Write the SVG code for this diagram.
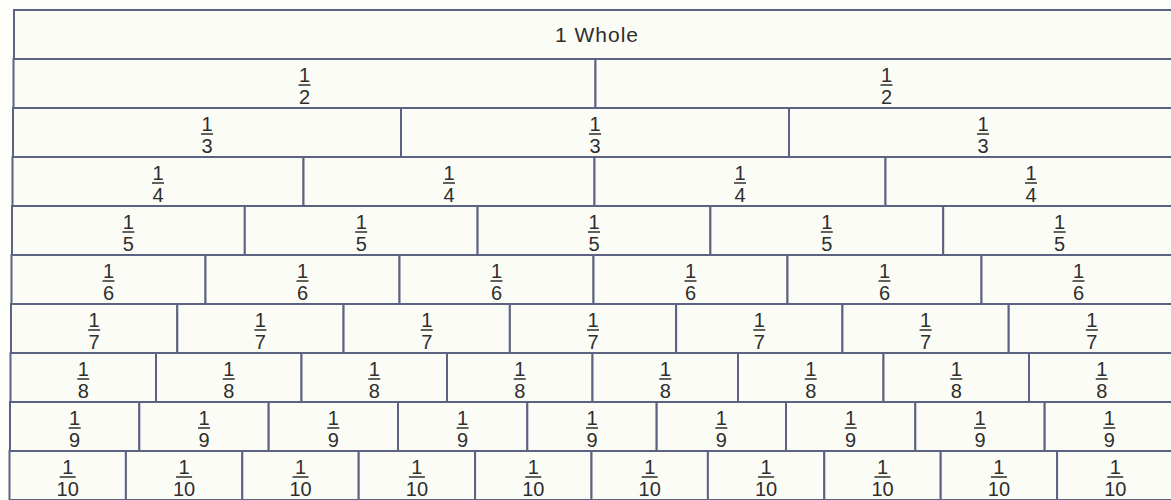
<svg xmlns="http://www.w3.org/2000/svg" width="1171" height="500" viewBox="0 0 1171 500">
<style>
.c{fill:#fcfcf6;stroke:#5c6282;stroke-width:2}
.n{font-family:"Liberation Sans",Arial,sans-serif;font-size:20px;fill:#2e2e2e;text-anchor:middle}
.t{font-family:"Liberation Sans",Arial,sans-serif;font-size:21px;letter-spacing:1px;fill:#2e2e2e;text-anchor:middle}
.b{stroke:#2e2e2e;stroke-width:1.5}
</style>
<rect width="1171" height="500" fill="#fdfdf9"/>
<g id="whole"><rect class="c" x="14" y="10" width="1164" height="49"/><text class="t" x="597" y="42">1 Whole</text></g>
<g id="half-1"><rect class="c" x="13.5" y="59" width="582" height="49"/><text class="n" x="304.5" y="82">1</text><line class="b" x1="298.5" y1="85" x2="310.5" y2="85"/><text class="n" x="304.5" y="104">2</text></g>
<g id="half-2"><rect class="c" x="595.5" y="59" width="582" height="49"/><text class="n" x="886.5" y="82">1</text><line class="b" x1="880.5" y1="85" x2="892.5" y2="85"/><text class="n" x="886.5" y="104">2</text></g>
<g id="third-1"><rect class="c" x="13" y="108" width="388" height="49"/><text class="n" x="207" y="131">1</text><line class="b" x1="201" y1="134" x2="213" y2="134"/><text class="n" x="207" y="153">3</text></g>
<g id="third-2"><rect class="c" x="401" y="108" width="388" height="49"/><text class="n" x="595" y="131">1</text><line class="b" x1="589" y1="134" x2="601" y2="134"/><text class="n" x="595" y="153">3</text></g>
<g id="third-3"><rect class="c" x="789" y="108" width="388" height="49"/><text class="n" x="983" y="131">1</text><line class="b" x1="977" y1="134" x2="989" y2="134"/><text class="n" x="983" y="153">3</text></g>
<g id="quarter-1"><rect class="c" x="12.5" y="157" width="291" height="49"/><text class="n" x="158" y="180">1</text><line class="b" x1="152" y1="183" x2="164" y2="183"/><text class="n" x="158" y="202">4</text></g>
<g id="quarter-2"><rect class="c" x="303.5" y="157" width="291" height="49"/><text class="n" x="449" y="180">1</text><line class="b" x1="443" y1="183" x2="455" y2="183"/><text class="n" x="449" y="202">4</text></g>
<g id="quarter-3"><rect class="c" x="594.5" y="157" width="291" height="49"/><text class="n" x="740" y="180">1</text><line class="b" x1="734" y1="183" x2="746" y2="183"/><text class="n" x="740" y="202">4</text></g>
<g id="quarter-4"><rect class="c" x="885.5" y="157" width="291" height="49"/><text class="n" x="1031" y="180">1</text><line class="b" x1="1025" y1="183" x2="1037" y2="183"/><text class="n" x="1031" y="202">4</text></g>
<g id="fifth-1"><rect class="c" x="12" y="206" width="232.8" height="49"/><text class="n" x="128.4" y="229">1</text><line class="b" x1="122.4" y1="232" x2="134.4" y2="232"/><text class="n" x="128.4" y="251">5</text></g>
<g id="fifth-2"><rect class="c" x="244.8" y="206" width="232.8" height="49"/><text class="n" x="361.2" y="229">1</text><line class="b" x1="355.2" y1="232" x2="367.2" y2="232"/><text class="n" x="361.2" y="251">5</text></g>
<g id="fifth-3"><rect class="c" x="477.6" y="206" width="232.8" height="49"/><text class="n" x="594" y="229">1</text><line class="b" x1="588" y1="232" x2="600" y2="232"/><text class="n" x="594" y="251">5</text></g>
<g id="fifth-4"><rect class="c" x="710.4" y="206" width="232.8" height="49"/><text class="n" x="826.8" y="229">1</text><line class="b" x1="820.8" y1="232" x2="832.8" y2="232"/><text class="n" x="826.8" y="251">5</text></g>
<g id="fifth-5"><rect class="c" x="943.2" y="206" width="232.8" height="49"/><text class="n" x="1059.6" y="229">1</text><line class="b" x1="1053.6" y1="232" x2="1065.6" y2="232"/><text class="n" x="1059.6" y="251">5</text></g>
<g id="sixth-1"><rect class="c" x="11.5" y="255" width="194" height="49"/><text class="n" x="108.5" y="278">1</text><line class="b" x1="102.5" y1="281" x2="114.5" y2="281"/><text class="n" x="108.5" y="300">6</text></g>
<g id="sixth-2"><rect class="c" x="205.5" y="255" width="194" height="49"/><text class="n" x="302.5" y="278">1</text><line class="b" x1="296.5" y1="281" x2="308.5" y2="281"/><text class="n" x="302.5" y="300">6</text></g>
<g id="sixth-3"><rect class="c" x="399.5" y="255" width="194" height="49"/><text class="n" x="496.5" y="278">1</text><line class="b" x1="490.5" y1="281" x2="502.5" y2="281"/><text class="n" x="496.5" y="300">6</text></g>
<g id="sixth-4"><rect class="c" x="593.5" y="255" width="194" height="49"/><text class="n" x="690.5" y="278">1</text><line class="b" x1="684.5" y1="281" x2="696.5" y2="281"/><text class="n" x="690.5" y="300">6</text></g>
<g id="sixth-5"><rect class="c" x="787.5" y="255" width="194" height="49"/><text class="n" x="884.5" y="278">1</text><line class="b" x1="878.5" y1="281" x2="890.5" y2="281"/><text class="n" x="884.5" y="300">6</text></g>
<g id="sixth-6"><rect class="c" x="981.5" y="255" width="194" height="49"/><text class="n" x="1078.5" y="278">1</text><line class="b" x1="1072.5" y1="281" x2="1084.5" y2="281"/><text class="n" x="1078.5" y="300">6</text></g>
<g id="seventh-1"><rect class="c" x="11" y="304" width="166.29" height="49"/><text class="n" x="94.14" y="327">1</text><line class="b" x1="88.14" y1="330" x2="100.14" y2="330"/><text class="n" x="94.14" y="349">7</text></g>
<g id="seventh-2"><rect class="c" x="177.29" y="304" width="166.29" height="49"/><text class="n" x="260.43" y="327">1</text><line class="b" x1="254.43" y1="330" x2="266.43" y2="330"/><text class="n" x="260.43" y="349">7</text></g>
<g id="seventh-3"><rect class="c" x="343.57" y="304" width="166.29" height="49"/><text class="n" x="426.71" y="327">1</text><line class="b" x1="420.71" y1="330" x2="432.71" y2="330"/><text class="n" x="426.71" y="349">7</text></g>
<g id="seventh-4"><rect class="c" x="509.86" y="304" width="166.29" height="49"/><text class="n" x="593" y="327">1</text><line class="b" x1="587" y1="330" x2="599" y2="330"/><text class="n" x="593" y="349">7</text></g>
<g id="seventh-5"><rect class="c" x="676.14" y="304" width="166.29" height="49"/><text class="n" x="759.29" y="327">1</text><line class="b" x1="753.29" y1="330" x2="765.29" y2="330"/><text class="n" x="759.29" y="349">7</text></g>
<g id="seventh-6"><rect class="c" x="842.43" y="304" width="166.29" height="49"/><text class="n" x="925.57" y="327">1</text><line class="b" x1="919.57" y1="330" x2="931.57" y2="330"/><text class="n" x="925.57" y="349">7</text></g>
<g id="seventh-7"><rect class="c" x="1008.71" y="304" width="166.29" height="49"/><text class="n" x="1091.86" y="327">1</text><line class="b" x1="1085.86" y1="330" x2="1097.86" y2="330"/><text class="n" x="1091.86" y="349">7</text></g>
<g id="eighth-1"><rect class="c" x="10.5" y="353" width="145.5" height="49"/><text class="n" x="83.25" y="376">1</text><line class="b" x1="77.25" y1="379" x2="89.25" y2="379"/><text class="n" x="83.25" y="398">8</text></g>
<g id="eighth-2"><rect class="c" x="156" y="353" width="145.5" height="49"/><text class="n" x="228.75" y="376">1</text><line class="b" x1="222.75" y1="379" x2="234.75" y2="379"/><text class="n" x="228.75" y="398">8</text></g>
<g id="eighth-3"><rect class="c" x="301.5" y="353" width="145.5" height="49"/><text class="n" x="374.25" y="376">1</text><line class="b" x1="368.25" y1="379" x2="380.25" y2="379"/><text class="n" x="374.25" y="398">8</text></g>
<g id="eighth-4"><rect class="c" x="447" y="353" width="145.5" height="49"/><text class="n" x="519.75" y="376">1</text><line class="b" x1="513.75" y1="379" x2="525.75" y2="379"/><text class="n" x="519.75" y="398">8</text></g>
<g id="eighth-5"><rect class="c" x="592.5" y="353" width="145.5" height="49"/><text class="n" x="665.25" y="376">1</text><line class="b" x1="659.25" y1="379" x2="671.25" y2="379"/><text class="n" x="665.25" y="398">8</text></g>
<g id="eighth-6"><rect class="c" x="738" y="353" width="145.5" height="49"/><text class="n" x="810.75" y="376">1</text><line class="b" x1="804.75" y1="379" x2="816.75" y2="379"/><text class="n" x="810.75" y="398">8</text></g>
<g id="eighth-7"><rect class="c" x="883.5" y="353" width="145.5" height="49"/><text class="n" x="956.25" y="376">1</text><line class="b" x1="950.25" y1="379" x2="962.25" y2="379"/><text class="n" x="956.25" y="398">8</text></g>
<g id="eighth-8"><rect class="c" x="1029" y="353" width="145.5" height="49"/><text class="n" x="1101.75" y="376">1</text><line class="b" x1="1095.75" y1="379" x2="1107.75" y2="379"/><text class="n" x="1101.75" y="398">8</text></g>
<g id="ninth-1"><rect class="c" x="10" y="402" width="129.33" height="49"/><text class="n" x="74.67" y="425">1</text><line class="b" x1="68.67" y1="428" x2="80.67" y2="428"/><text class="n" x="74.67" y="447">9</text></g>
<g id="ninth-2"><rect class="c" x="139.33" y="402" width="129.33" height="49"/><text class="n" x="204" y="425">1</text><line class="b" x1="198" y1="428" x2="210" y2="428"/><text class="n" x="204" y="447">9</text></g>
<g id="ninth-3"><rect class="c" x="268.67" y="402" width="129.33" height="49"/><text class="n" x="333.33" y="425">1</text><line class="b" x1="327.33" y1="428" x2="339.33" y2="428"/><text class="n" x="333.33" y="447">9</text></g>
<g id="ninth-4"><rect class="c" x="398" y="402" width="129.33" height="49"/><text class="n" x="462.67" y="425">1</text><line class="b" x1="456.67" y1="428" x2="468.67" y2="428"/><text class="n" x="462.67" y="447">9</text></g>
<g id="ninth-5"><rect class="c" x="527.33" y="402" width="129.33" height="49"/><text class="n" x="592" y="425">1</text><line class="b" x1="586" y1="428" x2="598" y2="428"/><text class="n" x="592" y="447">9</text></g>
<g id="ninth-6"><rect class="c" x="656.67" y="402" width="129.33" height="49"/><text class="n" x="721.33" y="425">1</text><line class="b" x1="715.33" y1="428" x2="727.33" y2="428"/><text class="n" x="721.33" y="447">9</text></g>
<g id="ninth-7"><rect class="c" x="786" y="402" width="129.33" height="49"/><text class="n" x="850.67" y="425">1</text><line class="b" x1="844.67" y1="428" x2="856.67" y2="428"/><text class="n" x="850.67" y="447">9</text></g>
<g id="ninth-8"><rect class="c" x="915.33" y="402" width="129.33" height="49"/><text class="n" x="980" y="425">1</text><line class="b" x1="974" y1="428" x2="986" y2="428"/><text class="n" x="980" y="447">9</text></g>
<g id="ninth-9"><rect class="c" x="1044.67" y="402" width="129.33" height="49"/><text class="n" x="1109.33" y="425">1</text><line class="b" x1="1103.33" y1="428" x2="1115.33" y2="428"/><text class="n" x="1109.33" y="447">9</text></g>
<g id="tenth-1"><rect class="c" x="9.5" y="451" width="116.4" height="49"/><text class="n" x="67.7" y="474">1</text><line class="b" x1="59.7" y1="477" x2="75.7" y2="477"/><text class="n" x="67.7" y="496">10</text></g>
<g id="tenth-2"><rect class="c" x="125.9" y="451" width="116.4" height="49"/><text class="n" x="184.1" y="474">1</text><line class="b" x1="176.1" y1="477" x2="192.1" y2="477"/><text class="n" x="184.1" y="496">10</text></g>
<g id="tenth-3"><rect class="c" x="242.3" y="451" width="116.4" height="49"/><text class="n" x="300.5" y="474">1</text><line class="b" x1="292.5" y1="477" x2="308.5" y2="477"/><text class="n" x="300.5" y="496">10</text></g>
<g id="tenth-4"><rect class="c" x="358.7" y="451" width="116.4" height="49"/><text class="n" x="416.9" y="474">1</text><line class="b" x1="408.9" y1="477" x2="424.9" y2="477"/><text class="n" x="416.9" y="496">10</text></g>
<g id="tenth-5"><rect class="c" x="475.1" y="451" width="116.4" height="49"/><text class="n" x="533.3" y="474">1</text><line class="b" x1="525.3" y1="477" x2="541.3" y2="477"/><text class="n" x="533.3" y="496">10</text></g>
<g id="tenth-6"><rect class="c" x="591.5" y="451" width="116.4" height="49"/><text class="n" x="649.7" y="474">1</text><line class="b" x1="641.7" y1="477" x2="657.7" y2="477"/><text class="n" x="649.7" y="496">10</text></g>
<g id="tenth-7"><rect class="c" x="707.9" y="451" width="116.4" height="49"/><text class="n" x="766.1" y="474">1</text><line class="b" x1="758.1" y1="477" x2="774.1" y2="477"/><text class="n" x="766.1" y="496">10</text></g>
<g id="tenth-8"><rect class="c" x="824.3" y="451" width="116.4" height="49"/><text class="n" x="882.5" y="474">1</text><line class="b" x1="874.5" y1="477" x2="890.5" y2="477"/><text class="n" x="882.5" y="496">10</text></g>
<g id="tenth-9"><rect class="c" x="940.7" y="451" width="116.4" height="49"/><text class="n" x="998.9" y="474">1</text><line class="b" x1="990.9" y1="477" x2="1006.9" y2="477"/><text class="n" x="998.9" y="496">10</text></g>
<g id="tenth-10"><rect class="c" x="1057.1" y="451" width="116.4" height="49"/><text class="n" x="1115.3" y="474">1</text><line class="b" x1="1107.3" y1="477" x2="1123.3" y2="477"/><text class="n" x="1115.3" y="496">10</text></g>
<g id="connectors"/>
</svg>
